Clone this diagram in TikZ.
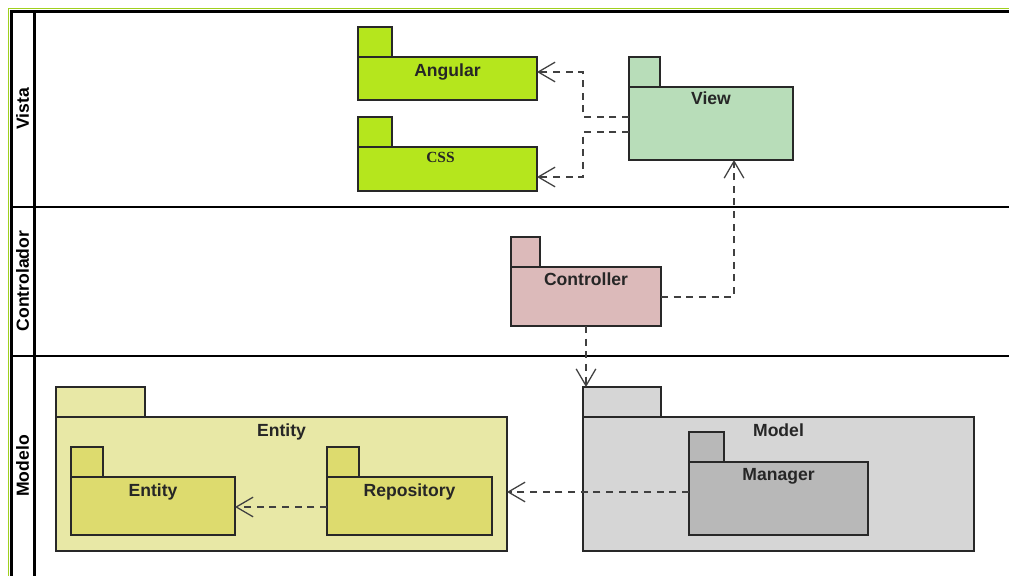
\documentclass[tikz,border=0pt]{standalone}
\usepackage{fontspec}
\setmainfont{Liberation Sans}
\newfontfamily\csssfont{Liberation Serif}
\usetikzlibrary{arrows.meta,fit}

\definecolor{lanegreen}{RGB}{160,208,30}
\definecolor{limepkg}{RGB}{181,230,29}
\definecolor{viewpkg}{RGB}{184,221,185}
\definecolor{ctrlpkg}{RGB}{220,186,186}
\definecolor{entouter}{RGB}{232,232,166}
\definecolor{entinner}{RGB}{221,219,110}
\definecolor{modelpkg}{RGB}{214,214,214}
\definecolor{mgrpkg}{RGB}{184,184,184}
\definecolor{pkgline}{RGB}{40,40,40}

\begin{document}
\begin{tikzpicture}[x=0.025cm,y=-0.025cm,
    pkg/.style={draw=pkgline, line width=0.8pt, inner sep=0pt, outer sep=0pt},
    ptitle/.style={anchor=base, font=\fontsize{12.5}{15}\selectfont\bfseries, text=black!85},
    lanename/.style={rotate=90, font=\fontsize{12.5}{15}\selectfont\bfseries},
    laneline/.style={line width=1.6pt},
    dep/.style={draw=black!75, line width=0.9pt, dash pattern=on 5pt off 4pt,
        -{Straight Barb[length=12pt,width=14pt]}}]

    \useasboundingbox (0,0) rectangle (1009,576);

    % Lanes
    \draw[lanegreen, line width=1.1pt] (8.5,576) -- (8.5,8.5) -- (1009,8.5);
    \draw[laneline] (11.5,576) -- (11.5,11.5) -- (1009,11.5);
    \draw[laneline] (34.5,11.5) -- (34.5,576);
    \draw[laneline] (11.5,207) -- (1009,207);
    \draw[laneline] (11.5,356) -- (1009,356);
    \node[lanename] (vista) at (22.5,109) {Vista};
    \node[lanename] (controlador) at (22.5,281) {Controlador};
    \node[lanename] (modelo) at (22.5,466) {Modelo};

    % Vista packages
    \node[pkg, fill=limepkg, fit={(358,27) (392,57)}] (angulartab) {};
    \node[pkg, fill=limepkg, fit={(358,57) (537,100)}] (angular) {};
    \node[ptitle] (angulartxt) at ([yshift=-0.5cm]angular.north) {Angular};

    \node[pkg, fill=limepkg, fit={(358,117) (392,147)}] (csstab) {};
    \node[pkg, fill=limepkg, fit={(358,147) (537,191)}] (css) {};
    \node[ptitle, font=\csssfont\fontsize{11}{13}\selectfont\bfseries] (csstxt)
        at ([xshift=-5pt,yshift=-0.4cm]css.north) {CSS};

    \node[pkg, fill=viewpkg, fit={(629,57) (660,87)}] (viewtab) {};
    \node[pkg, fill=viewpkg, fit={(629,87) (793,160)}] (view) {};
    \node[ptitle] (viewtxt) at ([yshift=-0.45cm]view.north) {View};

    % Controlador package
    \node[pkg, fill=ctrlpkg, fit={(511,237) (540,267)}] (controllertab) {};
    \node[pkg, fill=ctrlpkg, fit={(511,267) (661,326)}] (controller) {};
    \node[ptitle] (controllertxt) at ([yshift=-0.45cm]controller.north) {Controller};

    % Modelo packages
    \node[pkg, fill=entouter, fit={(56,387) (145,417)}] (entityouttab) {};
    \node[pkg, fill=entouter, fit={(56,417) (507,551)}] (entityout) {};
    \node[ptitle] (entityouttxt) at ([yshift=-0.475cm]entityout.north) {Entity};

    \node[pkg, fill=entinner, fit={(71,447) (103,477)}] (entitytab) {};
    \node[pkg, fill=entinner, fit={(71,477) (235,535)}] (entity) {};
    \node[ptitle] (entitytxt) at ([yshift=-0.475cm]entity.north) {Entity};

    \node[pkg, fill=entinner, fit={(327,447) (359,477)}] (repotab) {};
    \node[pkg, fill=entinner, fit={(327,477) (492,535)}] (repo) {};
    \node[ptitle] (repotxt) at ([yshift=-0.475cm]repo.north) {Repository};

    \node[pkg, fill=modelpkg, fit={(583,387) (661,417)}] (modeltab) {};
    \node[pkg, fill=modelpkg, fit={(583,417) (974,551)}] (model) {};
    \node[ptitle] (modeltxt) at ([yshift=-0.475cm]model.north) {Model};

    \node[pkg, fill=mgrpkg, fit={(689,432) (724,462)}] (managertab) {};
    \node[pkg, fill=mgrpkg, fit={(689,462) (868,535)}] (manager) {};
    \node[ptitle] (managertxt) at ([yshift=-0.45cm]manager.north) {Manager};

    % Dependencies
    \draw[dep] (view.west |- 0,117) -- (583,117) |- (angular.east |- 0,72);
    \draw[dep] (view.west |- 0,132) -- (583,132) |- (css.east |- 0,177);
    \draw[dep] (controller.east |- 0,297) -| (view.south -| 734,0);
    \draw[dep] (controller.south) -- (controller.south |- modeltab.north);
    \draw[dep] (manager.west |- 0,492) -- (entityout.east |- 0,492);
    \draw[dep] (repo.west |- 0,507) -- (entity.east |- 0,507);
\end{tikzpicture}
\end{document}
